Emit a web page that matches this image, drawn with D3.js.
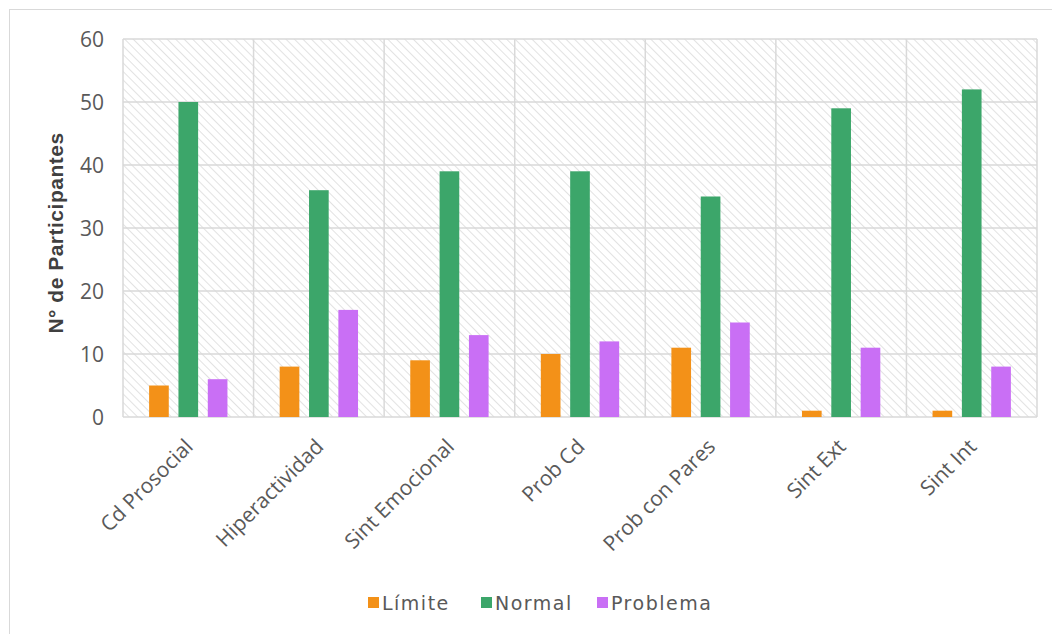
<!DOCTYPE html>
<html>
<head>
<meta charset="utf-8">
<script src="https://cdn.jsdelivr.net/npm/d3@7"></script>
<style>
  html, body { margin: 0; padding: 0; background: #fff; }
  svg { display: block; }
</style>
</head>
<body>
<svg id="chart" width="1052" height="634"></svg>
<script>
// Categories and counts per SDQ scale
const categories = ["Cd Prosocial", "Hiperactividad", "Sint Emocional", "Prob Cd", "Prob con Pares", "Sint Ext", "Sint Int"];
const seriesNames = ["Límite", "Normal", "Problema"];
const limite   = [5, 8, 9, 10, 11, 1, 1];
const normal   = [50, 36, 39, 39, 35, 49, 52];
const problema = [6, 17, 13, 12, 15, 11, 8];
const yTicks = [0, 10, 20, 30, 40, 50, 60];
const colors = ["#f39118", "#3ca66a", "#c96ff5"];

const svg = d3.select("#chart");
const W = 1052, H = 634;
const plot = { left: 123, right: 1037, top: 39, bottom: 417 };

// Outer chart border
svg.append("rect")
  .attr("x", 9.5).attr("y", 9.5)
  .attr("width", W).attr("height", H)
  .attr("fill", "#fff").attr("stroke", "#d9d9d9").attr("stroke-width", 1);

// Diagonal hatch pattern for the plot background
const defs = svg.append("defs");
const pat = defs.append("pattern")
  .attr("id", "hatch")
  .attr("patternUnits", "userSpaceOnUse")
  .attr("width", 6).attr("height", 6)
  .attr("patternTransform", "rotate(-45)");
pat.append("rect").attr("width", 6).attr("height", 6).attr("fill", "#fff");
pat.append("line")
  .attr("x1", 0).attr("y1", 0).attr("x2", 0).attr("y2", 6)
  .attr("stroke", "#cfcfcf").attr("stroke-width", 1.2);

const x = d3.scaleBand()
  .domain(categories)
  .range([plot.left, plot.right])
  .paddingInner(0).paddingOuter(0);

const xInner = d3.scaleBand()
  .domain(seriesNames)
  .range([x.bandwidth() * 0.2, x.bandwidth() * 0.8])
  .paddingInner(0.33);

const y = d3.scaleLinear()
  .domain([0, 60])
  .range([plot.bottom, plot.top]);

svg.append("rect")
  .attr("x", plot.left).attr("y", plot.top)
  .attr("width", plot.right - plot.left).attr("height", plot.bottom - plot.top)
  .attr("fill", "url(#hatch)");

// Horizontal gridlines
svg.append("g")
  .selectAll("line")
  .data(yTicks)
  .join("line")
  .attr("x1", plot.left).attr("x2", plot.right)
  .attr("y1", d => y(d)).attr("y2", d => y(d))
  .attr("stroke", "#d9d9d9").attr("stroke-width", 1.5);

// Vertical category dividers
const bounds = categories.map(c => x(c)).concat([plot.right]);
svg.append("g")
  .selectAll("line")
  .data(bounds)
  .join("line")
  .attr("x1", d => d).attr("x2", d => d)
  .attr("y1", plot.top).attr("y2", plot.bottom)
  .attr("stroke", "#d9d9d9").attr("stroke-width", 1.5);

// Bars
const rows = categories.map((c, i) => ({ cat: c, vals: [limite[i], normal[i], problema[i]] }));
const groups = svg.append("g")
  .selectAll("g")
  .data(rows)
  .join("g")
  .attr("transform", d => `translate(${x(d.cat)},0)`);

groups.selectAll("rect")
  .data(d => d.vals.map((v, j) => ({ name: seriesNames[j], v, j })))
  .join("rect")
  .attr("x", d => xInner(d.name))
  .attr("width", xInner.bandwidth())
  .attr("y", d => y(d.v))
  .attr("height", d => y(0) - y(d.v))
  .attr("fill", d => colors[d.j]);

// Y axis labels
const yAxis = d3.axisLeft(y).tickValues(yTicks).tickSize(0).tickPadding(0);
const gy = svg.append("g")
  .attr("transform", `translate(104,0)`)
  .call(yAxis);
gy.select(".domain").remove();
gy.selectAll("text")
  .attr("fill", "#595959")
  .style("font-family", "'Open Sans', sans-serif")
  .style("font-size", "21px")
  .attr("dy", "0.35em");

// X axis labels, rotated
const xAxis = d3.axisBottom(x).tickSize(0).tickPadding(0);
const gx = svg.append("g")
  .attr("transform", `translate(0,${plot.bottom})`)
  .call(xAxis);
gx.select(".domain").remove();
gx.selectAll("text")
  .attr("fill", "#595959")
  .style("font-family", "'Open Sans', sans-serif")
  .style("font-size", "21px")
  .attr("text-anchor", "end")
  .attr("dy", 0)
  .attr("y", 0)
  .attr("transform", "translate(6,31) rotate(-45)");

// Y axis title
svg.append("text")
  .attr("transform", "translate(63,233) rotate(-90)")
  .attr("text-anchor", "middle")
  .attr("fill", "#404040")
  .style("font-family", "'Liberation Sans', Arial, sans-serif")
  .style("font-weight", "bold")
  .style("font-size", "21px")
  .style("letter-spacing", "0.5px")
  .text("N° de Participantes");

// Legend
const legendX = [368, 481, 597];
const legend = svg.append("g")
  .selectAll("g")
  .data(seriesNames)
  .join("g")
  .attr("transform", (d, i) => `translate(${legendX[i]},603)`);
legend.append("rect")
  .attr("x", 0).attr("y", -6)
  .attr("width", 11).attr("height", 11)
  .attr("fill", (d, i) => colors[i]);
legend.append("text")
  .attr("x", 14).attr("y", 0)
  .attr("dy", "0.35em")
  .attr("fill", "#595959")
  .style("font-family", "'DejaVu Sans', sans-serif")
  .style("font-size", "19px")
  .style("letter-spacing", "1.5px")
  .text(d => d);
</script>
</body>
</html>
